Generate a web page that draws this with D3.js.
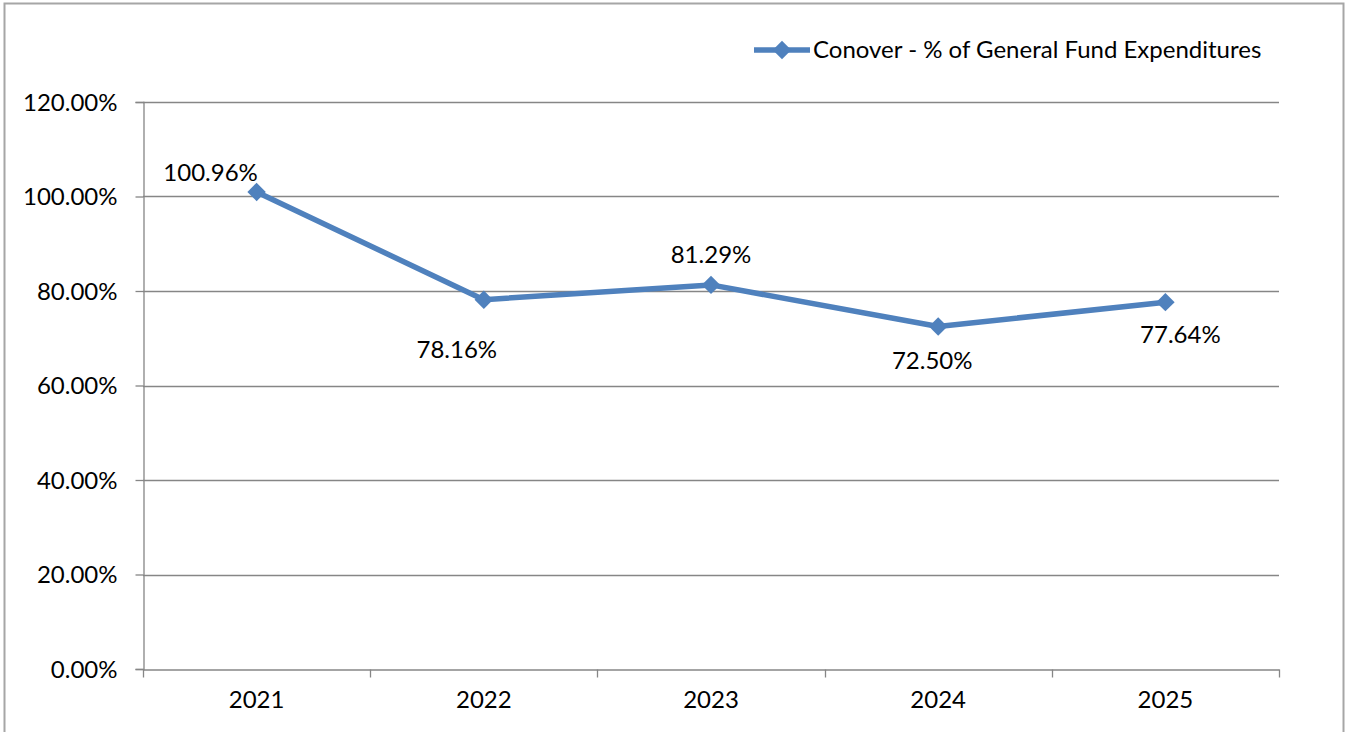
<!DOCTYPE html>
<html><head><meta charset="utf-8">
<script src="https://cdn.jsdelivr.net/npm/d3@7"></script>
<style>html,body{margin:0;padding:0;background:#fff;overflow:hidden}svg{display:block}text{font-family:Lato,"Open Sans",sans-serif;fill:#000}</style>
</head><body><svg id="c" width="1346" height="732"></svg>
<script>
const categories = ["2021","2022","2023","2024","2025"];
const values = [100.96, 78.16, 81.29, 72.50, 77.64];
const yTicks = [0, 20, 40, 60, 80, 100, 120];
const seriesName = "Conover - % of General Fund Expenditures";

(function(){
const svg = d3.select("#c");
const fs = 24;
const blue = "#4f81bd";
const grid = "#868686";

svg.append("rect").attr("x",4.5).attr("y",3.5).attr("width",1339).attr("height",740)
  .attr("fill","none").attr("stroke","#a6a6a6").attr("stroke-width",2);

const pL = 143, pR = 1279, pT = 102, pB = 669;
const x = d3.scaleBand().domain(categories).range([pL,pR]);
const y = d3.scaleLinear().domain([0,120]).range([pB,pT]);

svg.append("g").selectAll("line").data(yTicks.filter(d=>d>0)).join("line")
  .attr("x1",pL).attr("x2",pR).attr("y1",d=>Math.round(y(d))+0.5).attr("y2",d=>Math.round(y(d))+0.5)
  .attr("stroke",grid).attr("stroke-width",1.3);

const ya = svg.append("g").attr("transform",`translate(${pL+0.5},0)`)
  .call(d3.axisLeft(y).tickValues(yTicks).tickSize(8).tickPadding(18).tickFormat(d=>d.toFixed(2)+"%"));
ya.select(".domain").attr("stroke",grid).attr("stroke-width",1.3);
ya.selectAll(".tick line").attr("stroke",grid).attr("stroke-width",1.3);
ya.selectAll("text").attr("font-size",fs).attr("font-family","Lato").attr("dy","0.35em");

const xa = svg.append("g").attr("transform",`translate(0,${pB+0.5})`)
  .call(d3.axisBottom(x).tickSize(0).tickPadding(21));
xa.select(".domain").attr("stroke",grid).attr("stroke-width",1.3);
xa.selectAll("text").attr("font-size",fs).attr("font-family","Lato");
const bounds = categories.map(c=>x(c)).concat([pR]);
xa.append("g").selectAll("line").data(bounds).join("line")
  .attr("x1",d=>Math.round(d)+0.5).attr("x2",d=>Math.round(d)+0.5).attr("y1",0).attr("y2",8)
  .attr("stroke",grid).attr("stroke-width",1.3);

const cx = c => x(c) + x.bandwidth()/2;
const line = d3.line().x((d,i)=>cx(categories[i])).y(d=>y(d));
svg.append("path").datum(values).attr("d",line).attr("fill","none")
  .attr("stroke",blue).attr("stroke-width",5.5).attr("stroke-linejoin","round");

const diamond = d3.symbol().type(d3.symbolSquare).size(170);
svg.append("g").selectAll("path").data(values).join("path")
  .attr("d",diamond)
  .attr("transform",(d,i)=>`translate(${cx(categories[i])},${y(d)}) rotate(45)`)
  .attr("fill",blue);

const ldx = [-46, -27, 0, -6, 15];
const ldy = [-11, 58, -22, 43, 41];
svg.append("g").selectAll("text").data(values).join("text")
  .attr("x",(d,i)=>cx(categories[i]) + ldx[i])
  .attr("y",(d,i)=>y(d) + ldy[i])
  .attr("text-anchor","middle").attr("font-size",fs)
  .text(d=>d.toFixed(2)+"%");

const lg = svg.append("g").attr("transform","translate(754,50)");
lg.append("line").attr("x1",0).attr("x2",56).attr("y1",0).attr("y2",0).attr("stroke",blue).attr("stroke-width",5.5);
lg.append("path").attr("d",diamond).attr("transform","translate(28,0) rotate(45)").attr("fill",blue);
lg.append("text").attr("x",59).attr("y",0).attr("dy","0.35em").attr("font-size",fs).text(seriesName);
})();
</script></body></html>
